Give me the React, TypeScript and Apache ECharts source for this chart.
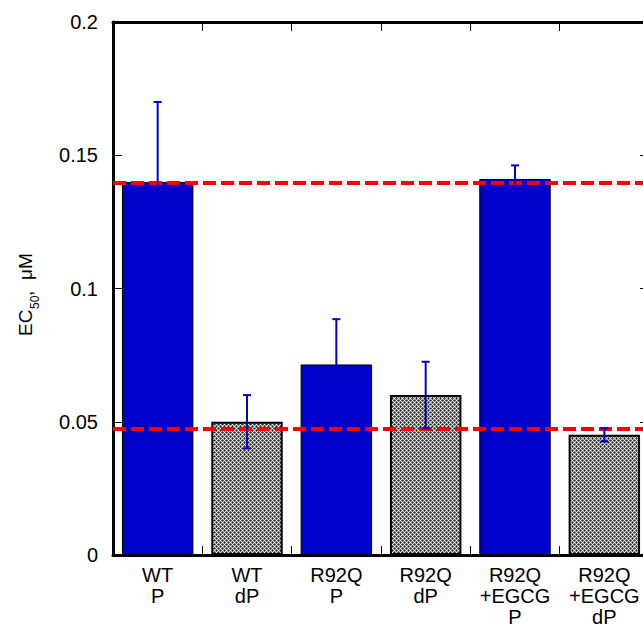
import React, { useEffect, useRef } from 'react';
import * as echarts from 'echarts';

const categories = ['WT\nP', 'WT\ndP', 'R92Q\nP', 'R92Q\ndP', 'R92Q\n+EGCG\nP', 'R92Q\n+EGCG\ndP'];
const ec50 = [0.14, 0.05, 0.0715, 0.06, 0.1411, 0.0451];
const errors = [0.03, 0.01, 0.017, 0.0125, 0.0051, 0.0025];
const kinds = ['P', 'dP', 'P', 'dP', 'P', 'dP'];
const refLines = [0.1398, 0.0474];
const yMin = 0;
const yMax = 0.2;
const yInterval = 0.05;

const BLUE = '#0000cc';
const SHIFT = 40;

function makePattern(): HTMLCanvasElement {
  const c = document.createElement('canvas');
  c.width = 4;
  c.height = 4;
  const ctx = c.getContext('2d')!;
  const px = [
    ['#ffffff', '#666666', '#262626', '#666666'],
    ['#666666', '#c4c4c4', '#808080', '#c4c4c4'],
    ['#262626', '#808080', '#ffffff', '#808080'],
    ['#666666', '#c4c4c4', '#808080', '#c4c4c4'],
  ];
  for (let y = 0; y < 4; y++) {
    for (let x = 0; x < 4; x++) {
      ctx.fillStyle = px[y][x];
      ctx.fillRect(x, y, 1, 1);
    }
  }
  return c;
}

export default function App() {
  const ref = useRef<HTMLDivElement>(null);
  useEffect(() => {
    if (!ref.current) return;
    const chart = echarts.init(ref.current, null, { renderer: 'svg' });
    const pattern = makePattern();
    const barData = ec50.map((v, i) => ({
      value: v,
      itemStyle:
        kinds[i] === 'P'
          ? { color: BLUE, borderColor: '#000', borderWidth: 1 }
          : {
              color: { image: pattern, repeat: 'repeat', imageWidth: 4, imageHeight: 4 } as any,
              borderColor: '#000',
              borderWidth: 2,
            },
    }));
    const errData = ec50.map((v, i) => [i, v - errors[i], v + errors[i]]);
    const font = 'Arial, "Liberation Sans", sans-serif';
    const mkLine = () => ({ show: true, onZero: false, lineStyle: { color: '#000', width: 3 } });
    const mkTick = () => ({ show: true, inside: true, length: 9, lineStyle: { color: '#000', width: 1 } });
    const nameGroup = {
      type: 'group',
      x: 25,
      y: 336 + SHIFT,
      rotation: Math.PI / 2,
      children: [
        { type: 'text', x: 0, y: 0, style: { text: 'EC', font: `19px ${font}`, fill: '#000', verticalAlign: 'middle', align: 'left' } },
        { type: 'text', x: 27, y: 10, style: { text: '50', font: `12px ${font}`, fill: '#000', verticalAlign: 'middle', align: 'left' } },
        { type: 'text', x: 40, y: 0, style: { text: ',', font: `19px ${font}`, fill: '#000', verticalAlign: 'middle', align: 'left' } },
        { type: 'text', x: 56, y: 0, style: { text: 'μM', font: `19px ${font}`, fill: '#000', verticalAlign: 'middle', align: 'left' } },
      ],
    };
    chart.setOption({
      animation: false,
      textStyle: { fontFamily: font },
      grid: { left: 113, right: 11, top: 22 + SHIFT, bottom: 71 },
      xAxis: [
        {
          type: 'category',
          data: categories,
          position: 'bottom',
          axisLine: mkLine(),
          splitLine: { show: false },
          axisTick: { ...mkTick(), interval: 0 },
          axisLabel: { color: '#000', fontSize: 20, lineHeight: 21, margin: 9, interval: 0, fontFamily: font },
        },
        {
          type: 'category',
          data: categories,
          position: 'top',
          axisLine: mkLine(),
          splitLine: { show: false },
          axisTick: { ...mkTick(), interval: 0 },
          axisLabel: { show: false },
        },
      ],
      yAxis: [
        {
          type: 'value',
          min: yMin,
          max: yMax,
          interval: yInterval,
          position: 'left',
          axisLine: mkLine(),
          splitLine: { show: false },
          axisTick: mkTick(),
          axisLabel: { color: '#000', fontSize: 20, margin: 15, fontFamily: font },
        },
        {
          type: 'value',
          min: yMin,
          max: yMax,
          interval: yInterval,
          position: 'right',
          axisLine: mkLine(),
          splitLine: { show: false },
          axisTick: mkTick(),
          axisLabel: { show: false },
        },
      ],
      graphic: [nameGroup],
      series: [
        {
          type: 'bar',
          data: barData,
          barWidth: '80%',
          xAxisIndex: 0,
          yAxisIndex: 0,
          z: 2,
          markLine: {
            silent: true,
            symbol: 'none',
            precision: 5,
            label: { show: false },
            lineStyle: { color: '#ff0000', width: 4, type: [13, 5] },
            data: refLines.map((v) => ({ yAxis: v })),
            z: 3,
          },
        },
        {
          type: 'custom',
          xAxisIndex: 1,
          yAxisIndex: 1,
          z: 5,
          data: errData,
          renderItem: (params: any, api: any) => {
            const x = api.value(0);
            const lo = api.coord([x, api.value(1)]);
            const hi = api.coord([x, api.value(2)]);
            const cx = lo[0];
            const hw = 4;
            const style = { stroke: BLUE, lineWidth: 2 };
            return {
              type: 'group',
              children: [
                { type: 'line', shape: { x1: cx, y1: lo[1], x2: cx, y2: hi[1] }, style },
                { type: 'line', shape: { x1: cx - hw, y1: hi[1], x2: cx + hw, y2: hi[1] }, style },
                { type: 'line', shape: { x1: cx - hw, y1: lo[1], x2: cx + hw, y2: lo[1] }, style },
              ],
            };
          },
        },
      ],
    });
    return () => chart.dispose();
  }, []);
  return (
    <div style={{ position: 'fixed', left: 0, top: 0, width: 643, height: 627, overflow: 'hidden', background: '#fff' }}>
      <div ref={ref} style={{ position: 'absolute', left: 0, top: -SHIFT, width: 660, height: 627 + SHIFT }} />
    </div>
  );
}
